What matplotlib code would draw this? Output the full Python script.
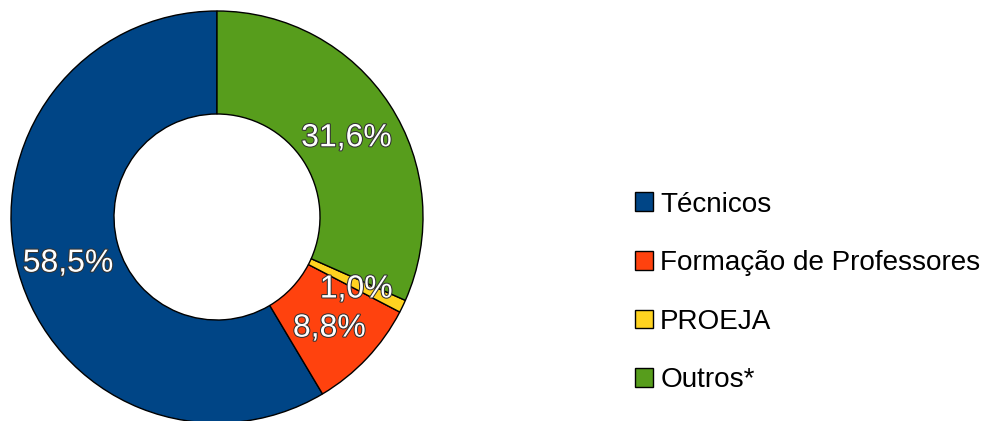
import matplotlib
matplotlib.use("Agg")
import matplotlib.pyplot as plt
import matplotlib.patheffects as pe
import matplotlib.transforms as mtransforms
from matplotlib.patches import Patch

categories = ["Técnicos", "Formação de Professores", "PROEJA", "Outros*"]
values = [58.5, 8.8, 1.0, 31.6]
colors = ["#004586", "#ff420e", "#ffd320", "#579d1c"]

plt.rcParams['font.family'] = ['Liberation Sans', 'DejaVu Sans']

W, H = 986, 421
fig = plt.figure(figsize=(W / 100, H / 100), dpi=100)
cx, cy, R = 217, 421 - 217, 206
ax = fig.add_axes([(cx - R) / W, (cy - R) / H, 2 * R / W, 2 * R / H])

total = sum(values)
wedges, texts, autotexts = ax.pie(
    values, colors=colors, startangle=90, counterclock=True, radius=1.0,
    wedgeprops=dict(width=0.5, edgecolor="black", linewidth=1.0),
    autopct=lambda p: f"{p * total / 100:.1f}%".replace(".", ","),
    pctdistance=0.75,
    textprops=dict(color="white", fontsize=23),
)
shift = mtransforms.offset_copy(ax.transData, fig=fig, x=0, y=-4, units="points")
for t in autotexts:
    t.set_transform(shift)
    t.set_path_effects([pe.withStroke(linewidth=1.5, foreground="#333333")])

ax.set_xlim(-1.0, 1.0)
ax.set_ylim(-1.0, 1.0)
ax.set_aspect("equal")
ax.axis("off")

handles = [Patch(facecolor=c, edgecolor="black", linewidth=1.0) for c in colors]
fig.legend(handles, categories, loc="center left",
           bbox_to_anchor=(635 / W, 128.5 / H), bbox_transform=fig.transFigure,
           frameon=False, fontsize=20.1, handlelength=0.65, handleheight=0.65,
           handletextpad=0.25, labelspacing=1.17, borderpad=0, borderaxespad=0)

fig.savefig("out.png", dpi=100)
